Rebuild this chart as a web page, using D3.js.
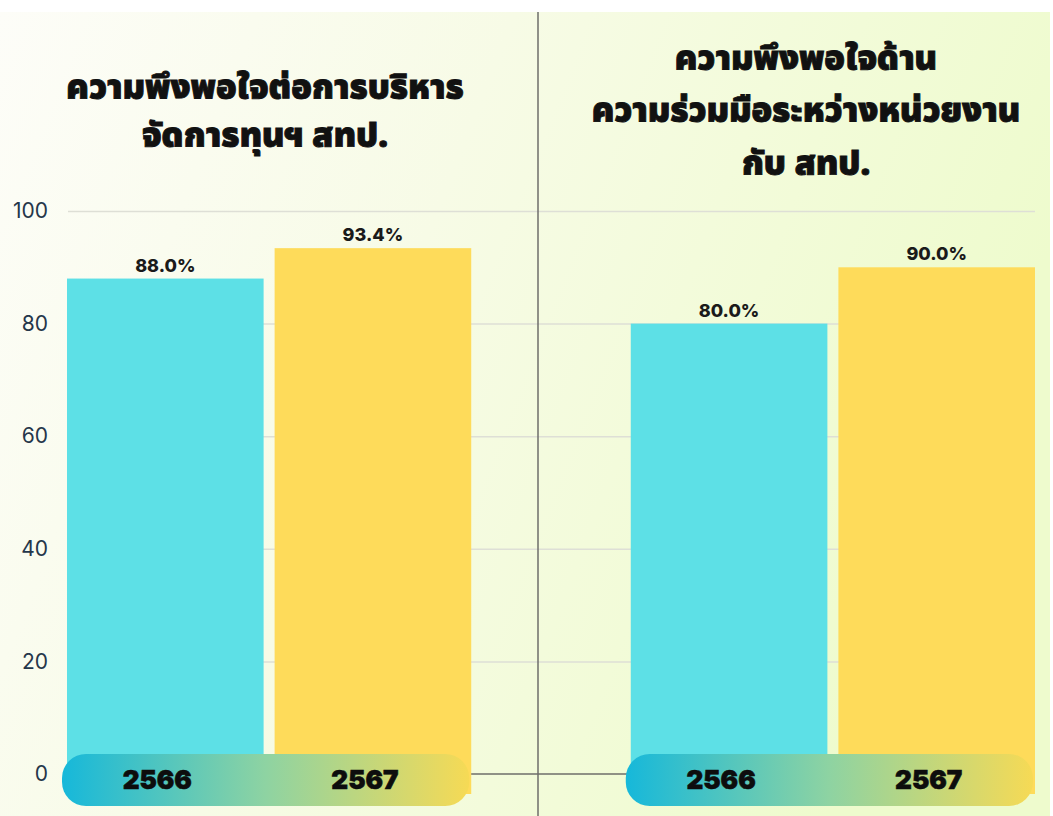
<!DOCTYPE html>
<html lang="th">
<head>
<meta charset="UTF-8">
<script src="https://d3js.org/d3.v7.min.js"></script>
<style>
  body { margin: 0; background: #fff; }
  svg { display: block; }
</style>
</head>
<body>
<svg width="1053" height="816"></svg>
<script>
  // data
  const panelTitles = [
    ["ความพึงพอใจต่อการบริหาร", "จัดการทุนฯ สทป."],
    ["ความพึงพอใจด้าน", "ความร่วมมือระหว่างหน่วยงาน", "กับ สทป."]
  ];
  const years = ["2566", "2567"];
  const values2566 = [88.0, 80.0];
  const values2567 = [93.4, 90.0];
  const yTicks = [0, 20, 40, 60, 80, 100];

  const W = 1053, H = 816;
  const svg = d3.select("svg");
  const thai = "'Noto Sans Thai', 'Noto Sans Thai Looped', 'Loma', 'Garuda', 'Noto Sans', sans-serif";

  // background
  const defs = svg.append("defs");
  const bg = defs.append("linearGradient").attr("id", "bg")
    .attr("x1", "0%").attr("y1", "0%").attr("x2", "100%").attr("y2", "30%");
  bg.append("stop").attr("offset", "0%").attr("stop-color", "#fdfdf8");
  bg.append("stop").attr("offset", "45%").attr("stop-color", "#f7fbe6");
  bg.append("stop").attr("offset", "100%").attr("stop-color", "#eefbcd");
  const pill = defs.append("linearGradient").attr("id", "pill")
    .attr("x1", "0%").attr("x2", "100%");
  pill.append("stop").attr("offset", "0%").attr("stop-color", "#16b8da");
  pill.append("stop").attr("offset", "50%").attr("stop-color", "#8ed3a2");
  pill.append("stop").attr("offset", "100%").attr("stop-color", "#f6da55");

  svg.append("rect").attr("x", 0).attr("y", 12).attr("width", 1050).attr("height", H - 12)
    .attr("fill", "url(#bg)");

  // scales
  const y = d3.scaleLinear().domain([0, 100]).range([774, 211]);
  const xPanel = d3.scaleBand().domain(d3.range(panelTitles.length)).range([67, 1035]).paddingInner(0.283);
  const xYear = d3.scaleBand().domain(years).range([0, xPanel.bandwidth()]).paddingInner(0.053);

  // grid
  svg.append("g")
    .attr("transform", "translate(68,0)")
    .call(d3.axisLeft(y).tickValues(yTicks.filter(d => d > 0)).tickSize(-967).tickFormat(""))
    .call(g => g.select(".domain").remove())
    .call(g => g.selectAll("line").attr("stroke", "#dedfd6").attr("stroke-width", 1.5));

  // y labels
  svg.append("g")
    .attr("transform", "translate(48,0)")
    .call(d3.axisLeft(y).tickValues(yTicks).tickSize(0).tickPadding(0))
    .call(g => g.select(".domain").remove())
    .call(g => g.selectAll("text")
      .attr("font-family", "Inter, 'Open Sans', sans-serif")
      .attr("font-size", 21).attr("fill", "#25364a"));

  // baseline and divider
  svg.append("line").attr("x1", 68).attr("x2", 1035).attr("y1", y(0)).attr("y2", y(0))
    .attr("stroke", "#6e6e6a").attr("stroke-width", 1.5);
  svg.append("line").attr("x1", 538).attr("x2", 538).attr("y1", 12).attr("y2", H)
    .attr("stroke", "#6e6e6a").attr("stroke-width", 1.5);

  const titleX = [265, 806];
  const titleY = [[99, 147], [70, 122, 175]];

  panelTitles.forEach((lines, i) => {
    const g = svg.append("g").attr("transform", `translate(${xPanel(i)},0)`);
    const vals = [values2566[i], values2567[i]];
    const colors = ["#5de0e6", "#fedb5a"];

    // bars
    g.selectAll("rect.bar").data(vals).join("rect")
      .attr("class", "bar")
      .attr("x", (d, j) => xYear(years[j]))
      .attr("y", d => y(d))
      .attr("width", xYear.bandwidth())
      .attr("height", d => y(0) - y(d) + 20)
      .attr("fill", (d, j) => colors[j]);

    // value labels
    g.selectAll("text.val").data(vals).join("text")
      .attr("class", "val")
      .attr("x", (d, j) => xYear(years[j]) + xYear.bandwidth() / 2)
      .attr("y", d => y(d) - 7)
      .attr("text-anchor", "middle")
      .attr("font-family", "Inter, 'Open Sans', sans-serif")
      .attr("font-weight", 800).attr("font-size", 18).attr("fill", "#1a1a1a")
      .text(d => d.toFixed(1) + "%");

    // year pill
    g.append("rect")
      .attr("x", -5).attr("y", 754)
      .attr("width", xPanel.bandwidth() + 3).attr("height", 52)
      .attr("rx", 24)
      .attr("fill", "url(#pill)");
    g.selectAll("text.yr").data(years).join("text")
      .attr("class", "yr")
      .attr("x", d => xYear(d) + xYear.bandwidth() / 2 - 8)
      .attr("y", 789)
      .attr("text-anchor", "middle")
      .attr("font-family", "Inter, Roboto, sans-serif")
      .attr("font-weight", 900).attr("font-size", 26).attr("fill", "#0d0d0d")
      .attr("stroke", "#0d0d0d").attr("stroke-width", 0.6)
      .text(d => d);

    // title
    svg.append("g").selectAll("text").data(lines).join("text")
      .attr("x", titleX[i])
      .attr("y", (d, k) => titleY[i][k])
      .attr("text-anchor", "middle")
      .attr("font-family", thai)
      .attr("font-weight", 900).attr("font-size", 34).attr("fill", "#111")
      .attr("stroke", "#111").attr("stroke-width", 0.9)
      .text(d => d);
  });
</script>
</body>
</html>
